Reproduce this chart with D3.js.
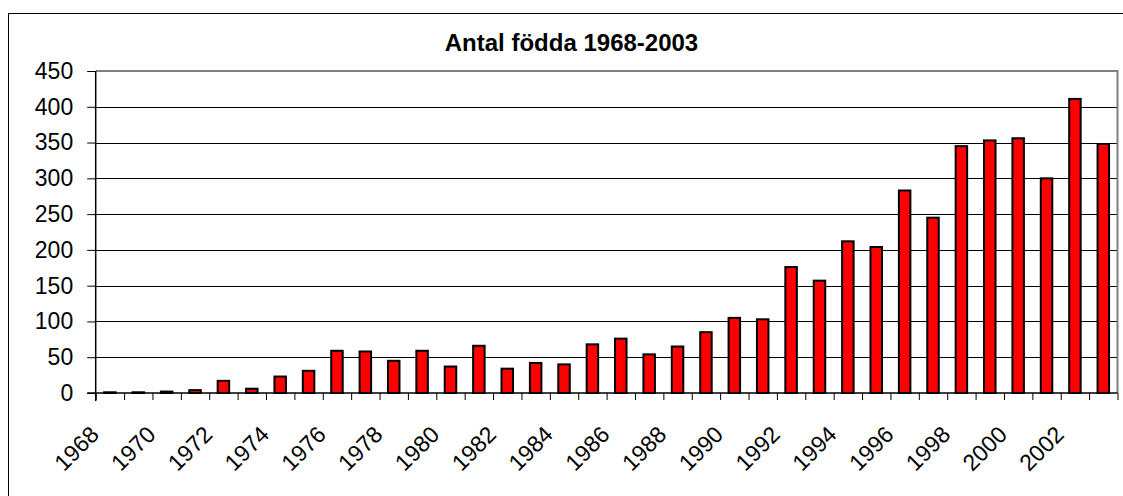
<!DOCTYPE html>
<html>
<head>
<meta charset="utf-8">
<script src="https://cdn.jsdelivr.net/npm/d3@7"></script>
<style>
  html, body { margin: 0; padding: 0; background: #fff; }
  svg { display: block; }
  text { font-family: "Liberation Sans", Arial, sans-serif; }
</style>
</head>
<body>
<svg id="chart" width="1123" height="496"></svg>
<script>
const title = "Antal födda 1968-2003";
const years = [1968,1969,1970,1971,1972,1973,1974,1975,1976,1977,1978,1979,1980,1981,1982,1983,1984,1985,
               1986,1987,1988,1989,1990,1991,1992,1993,1994,1995,1996,1997,1998,1999,2000,2001,2002,2003];
const births = [1,1,2,4,17,6,23,31,59,58,45,59,37,66,34,42,40,68,
                76,54,65,85,105,103,176,157,212,204,283,245,345,353,356,300,411,348];
const yTicks = [0,50,100,150,200,250,300,350,400,450];
const xLabels = [1968,1970,1972,1974,1976,1978,1980,1982,1984,1986,1988,1990,1992,1994,1996,1998,2000,2002];

const svg = d3.select("#chart");
const L = 95.7, R = 1117.5, T = 71, B = 393;

// outer frame
svg.append("rect").attr("x", 8.5).attr("y", 13.5).attr("width", 1130).attr("height", 500)
  .attr("fill", "#fff").attr("stroke", "#000").attr("stroke-width", 1);

const x = d3.scaleBand().domain(years).range([L, R]).paddingInner(0).paddingOuter(0);
const xEdge = d3.scaleLinear().domain([years[0], years[years.length-1] + 1]).range([L, R]);
const y = d3.scaleLinear().domain([0, 450]).range([B, T]);

// gridlines
svg.append("g").selectAll("line").data(yTicks.filter(d => d > 0 && d < 450)).join("line")
  .attr("x1", L).attr("x2", R).attr("y1", d => Math.round(y(d)) + 0.5).attr("y2", d => Math.round(y(d)) + 0.5)
  .attr("stroke", "#000").attr("stroke-width", 1);

// plot border top/right
svg.append("path")
  .attr("d", `M${L},${T} H${R} V${B}`)
  .attr("fill", "none").attr("stroke", "#808080").attr("stroke-width", 2);

// bars
const bw = 11.5;
svg.append("g").selectAll("rect").data(years).join("rect")
  .attr("x", (d) => x(d) + x.bandwidth() / 2 - bw / 2)
  .attr("y", (d, i) => y(births[i]))
  .attr("width", bw)
  .attr("height", (d, i) => B - y(births[i]))
  .attr("fill", "#ff0000")
  .attr("stroke", "#000")
  .attr("stroke-width", 2);

// y axis
const yAxis = d3.axisLeft(y).tickValues(yTicks).tickSize(8.5).tickPadding(14).tickFormat(d3.format("d"));
const gy = svg.append("g").attr("transform", `translate(${L},0)`).call(yAxis);
gy.select(".domain").attr("d", `M0,${T}V${B + 8}`).attr("stroke", "#000").attr("stroke-width", 1.5);
gy.selectAll(".tick line").attr("stroke", "#000");
gy.selectAll(".tick text").attr("font-size", 23).attr("fill", "#000")
  .attr("font-family", "'Liberation Sans', Arial, sans-serif");

// x axis
const xAxis = d3.axisBottom(xEdge).tickValues(d3.range(years[0], years[years.length-1] + 2))
  .tickSize(7).tickFormat(d => xLabels.includes(d) ? String(d) : "");
const gx = svg.append("g").attr("transform", `translate(0,${B})`).call(xAxis);
gx.select(".domain").attr("d", `M${L - 8.5},0H${R}`).attr("stroke", "#000").attr("stroke-width", 1.5);
gx.selectAll(".tick line").attr("stroke", "#000");
gx.selectAll(".tick text")
  .attr("y", null).attr("dy", null)
  .attr("text-anchor", "end")
  .attr("transform", "translate(4,43) rotate(-45)")
  .attr("font-size", 23).attr("fill", "#000")
  .attr("font-family", "'Liberation Sans', Arial, sans-serif");

// title
svg.append("text").attr("x", 571.5).attr("y", 51).attr("text-anchor", "middle")
  .attr("font-size", 24).attr("font-weight", "bold").attr("fill", "#000").text(title);
</script>
</body>
</html>
